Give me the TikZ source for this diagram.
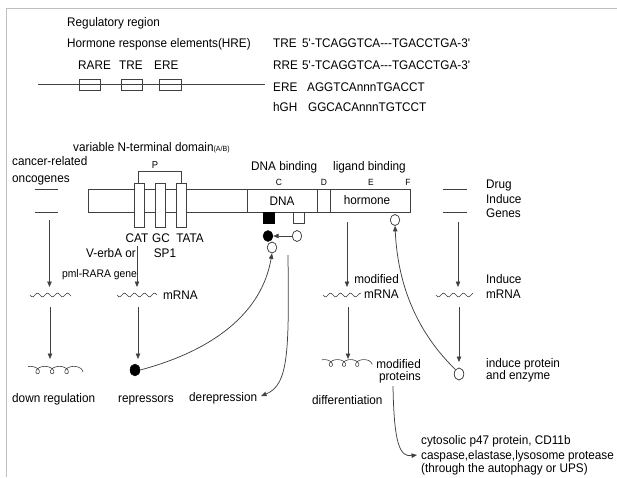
\documentclass[tikz,border=0pt]{standalone}
\usepackage{fontspec}
\setmainfont{Liberation Sans}[FakeStretch=0.94]
\usetikzlibrary{arrows.meta,shapes.geometric}
\newcommand\fmain{\fontsize{12.5}{15}\selectfont}
\newcommand\fsmallish{\fontsize{11}{13}\selectfont}
\newcommand\ftiny{\fontsize{7.5}{9}\selectfont}
\newcommand\flab{\fontsize{9}{11}\selectfont}
\newcommand\fP{\fontsize{10}{12}\selectfont}
\tikzset{
  ln/.style={line width=0.75pt, draw=black!75},
  arr/.style={ln, -{Triangle[length=5.5pt,width=4.5pt]}},
  tw/.style={font=\fmain, inner sep=0pt, anchor=base west},
  te/.style={font=\fmain, inner sep=0pt, anchor=base east},
  tc/.style={font=\fmain, inner sep=0pt, anchor=base},
  opencirc/.style={ellipse, draw=black!75, line width=0.75pt, fill=white, inner sep=0pt, minimum width=9.5pt, minimum height=11pt},
  blackcirc/.style={ellipse, draw=black, fill=black, inner sep=0pt, minimum width=10pt, minimum height=11pt},
  blacksq/.style={rectangle, draw=black, fill=black, inner sep=0pt, minimum size=11pt},
  opensq/.style={rectangle, draw=black!75, line width=0.75pt, fill=white, inner sep=0pt, minimum size=11pt},
  wavy/.style={ln, line width=0.6pt},
}
\begin{document}
\begin{tikzpicture}[x=1pt,y=-1pt]
\useasboundingbox (0,0) rectangle (617,477);
% frame
\draw[black!25, line width=0.8pt] (617,8) -- (6,8) -- (6,477);

% ---------- regulatory region ----------
\node[tw] (reg) at (67,26.5) {Regulatory region};
\node[tw] (hre) at (67,47.5) {Hormone response elements(HRE)};
\node[tw] (rare) at (78,69.5) {RARE};
\node[tw] (tre) at (119,69.5) {TRE};
\node[tw] (ere) at (154,69.5) {ERE};
\coordinate (hl) at (38,84);
\coordinate (hr) at (265,84);
\draw[ln] (hl) -- (hr);
\draw[ln] (79,79) rectangle (100,90);
\draw[ln] (121,79) rectangle (142,90);
\draw[ln] (159,79) rectangle (181,90);

\node[tw] (s1a) at (273,47.5) {TRE};
\node[tw] (s1b) at (302,47.5) {5\textquotesingle-TCAGGTCA-{}-{}-TGACCTGA-3\textquotesingle};
\node[tw] (s2a) at (273,69.5) {RRE};
\node[tw] (s2b) at (302,69.5) {5\textquotesingle-TCAGGTCA-{}-{}-TGACCTGA-3\textquotesingle};
\node[tw] (s3a) at (273,91.5) {ERE};
\node[tw] (s3b) at (307,91.5) {AGGTCAnnnTGACCT};
\node[tw] (s4a) at (273,111.5) {hGH};
\node[tw] (s4b) at (308,111.5) {GGCACAnnnTGTCCT};

% ---------- receptor / gene bar ----------
\node[tw] (vnt) at (73,151.5) {variable N-terminal domain{\ftiny(A/B)}};
\node[tw] (canc) at (12,165.5) {cancer-related};
\node[tw] (onco) at (12,182.5) {oncogenes};
\node[tc, font=\fP] (P) at (155,168.6) {P};
\node[tw] (dnab) at (251,170.5) {DNA binding};
\node[tw] (ligb) at (333,170.5) {ligand binding};
\node[tc, font=\flab] (C) at (279,185.5) {C};
\node[tc, font=\flab] (D) at (324,185.5) {D};
\node[tc, font=\flab] (E) at (371,185.5) {E};
\node[tc, font=\flab] (F) at (408,185.5) {F};

\draw[ln] (138,183) -- (138,171) -- (181,171) -- (181,183);
\draw[ln] (88,189) rectangle (410,212);
\draw[ln] (247,189) -- (247,212);
\draw[ln] (317,189) -- (317,212);
\draw[ln] (330,189) -- (330,212);
\draw[ln, fill=white] (134,183) rectangle (144,227);
\draw[ln, fill=white] (155,183) rectangle (165,227);
\draw[ln, fill=white] (176,183) rectangle (186,227);
\node[tc] (dnat) at (282,205.5) {DNA};
\node[tc] (horm) at (367,204.5) {hormone};

\draw[ln] (35,189) -- (58,189);
\draw[ln] (35,212) -- (58,212);
\draw[ln] (443,189) -- (467,189);
\draw[ln] (443,212) -- (467,212);
\node[tw] (drug) at (486,188.5) {Drug};
\node[tw] (ind1) at (486,203.5) {Induce};
\node[tw] (genes) at (486,217.5) {Genes};

\node[tc] (cat) at (137,242.5) {CAT};
\node[tc] (gc) at (161,242.5) {GC};
\node[tc] (tata) at (190,242.5) {TATA};
\node[tc] (sp1) at (165,257.5) {SP1};
\node[te] (verba) at (136,257.5) {V-erbA or};
\node[te, font=\fsmallish] (pml) at (137,277.5) {pml-RARA gene};

% DNA-binding site symbols
\node[blacksq] (bsq) at (268.5,217.5) {};
\node[opensq] (osq) at (298.5,217.5) {};
\node[blackcirc] (bc1) at (268,236) {};
\node[opencirc] (oc1) at (297,236) {};
\node[opencirc] (oc2) at (272,247.5) {};
\draw[arr] (oc1) -- (bc1);
\node[opencirc] (hc) at (395,220) {};

% ---------- first arrows ----------
\coordinate (a1s) at (49.5,220);  \coordinate (a1e) at (49.5,287);
\coordinate (a2s) at (137,246);   \coordinate (a2e) at (137,287);
\coordinate (a3s) at (347,222);   \coordinate (a3e) at (347,287);
\coordinate (a4s) at (458,222);   \coordinate (a4e) at (458,287);
\draw[arr] (a1s) -- (a1e);
\draw[arr] (a2s) -- (a2e);
\draw[arr] (a3s) -- (a3e);
\draw[arr] (a4s) -- (a4e);

% mRNA squiggles
\draw[wavy, shift={(30,295)}] plot[domain=0:41, samples=70, smooth] (\x, {1.8*sin(\x*36)});
\draw[wavy, shift={(117,295)}] plot[domain=0:40, samples=70, smooth] (\x, {1.8*sin(\x*36)});
\draw[wavy, shift={(323,295)}] plot[domain=0:38, samples=70, smooth] (\x, {1.8*sin(\x*36)});
\draw[wavy, shift={(436,295)}] plot[domain=0:37, samples=70, smooth] (\x, {1.8*sin(\x*36)});
\node[tw] (mr1) at (163,299.5) {mRNA};
\node[te] (modm) at (399,283.5) {modified};
\node[te] (modmr) at (399,298.5) {mRNA};
\node[tw] (indm) at (486,283.5) {Induce};
\node[tw] (indmr) at (486,298.5) {mRNA};

% ---------- second arrows ----------
\coordinate (b1s) at (50,307);  \coordinate (b1e) at (50,359);
\coordinate (b2s) at (138,307); \coordinate (b2e) at (138,359);
\coordinate (b3s) at (348,307); \coordinate (b3e) at (348,359);
\coordinate (b4s) at (459,307); \coordinate (b4e) at (459,362);
\draw[arr] (b1s) -- (b1e);
\draw[arr] (b2s) -- (b2e);
\draw[arr] (b3s) -- (b3e);
\draw[arr] (b4s) -- (b4e);

% protein squiggles
\draw[wavy, shift={(28,370)}] plot[domain=-200:1020, samples=260, smooth] ({2.3*rad(\x+200) - 4.8*sin(\x) - 4.8*sin(200)}, {3.6*cos(\x)});
\draw[wavy, shift={(322,363)}] plot[domain=-200:1020, samples=260, smooth] ({2.1*rad(\x+200) - 4.4*sin(\x) - 4.4*sin(200)}, {3.4*cos(\x)});

\node[blackcirc, minimum width=10pt, minimum height=12pt] (rep) at (135,370) {};
\node[opencirc, minimum height=12pt] (indc) at (459,374) {};
\node[te] (modp) at (421,368.5) {modified};
\node[te] (modpr) at (421,380.5) {proteins};
\node[tw] (indp) at (486,367.5) {induce protein};
\node[tw] (andenz) at (486,379.5) {and enzyme};

\node[tw] (down) at (12,402.5) {down regulation};
\node[tw] (repr) at (118,402.5) {repressors};
\node[tw] (derep) at (189,401.5) {derepression};
\node[tw] (diff) at (312,404.5) {differentiation};

\node[tw] (cyto) at (421,444.5) {cytosolic p47 protein, CD11b};
\node[tw] (casp) at (421,459.5) {caspase,elastase,lysosome protease};
\node[tw] (thru) at (421,472.5) {(through the autophagy or UPS)};

% ---------- curved connectors ----------
\draw[arr] (rep.east) .. controls (215,350) and (262,312) .. (oc2.south);
\coordinate (dst) at (288,255);
\coordinate (dtip) at (261,396);
\draw[arr] (dst) .. controls (289,350) and (289,385) .. (dtip);
\draw[arr] (indc.north west) .. controls (420,335) and (398,290) .. (hc.south);
\coordinate (pst) at (393,386);
\coordinate (ptip) at (417,455);
\draw[arr] (pst) .. controls (394,445) and (400,457) .. (ptip);
\end{tikzpicture}
\end{document}
